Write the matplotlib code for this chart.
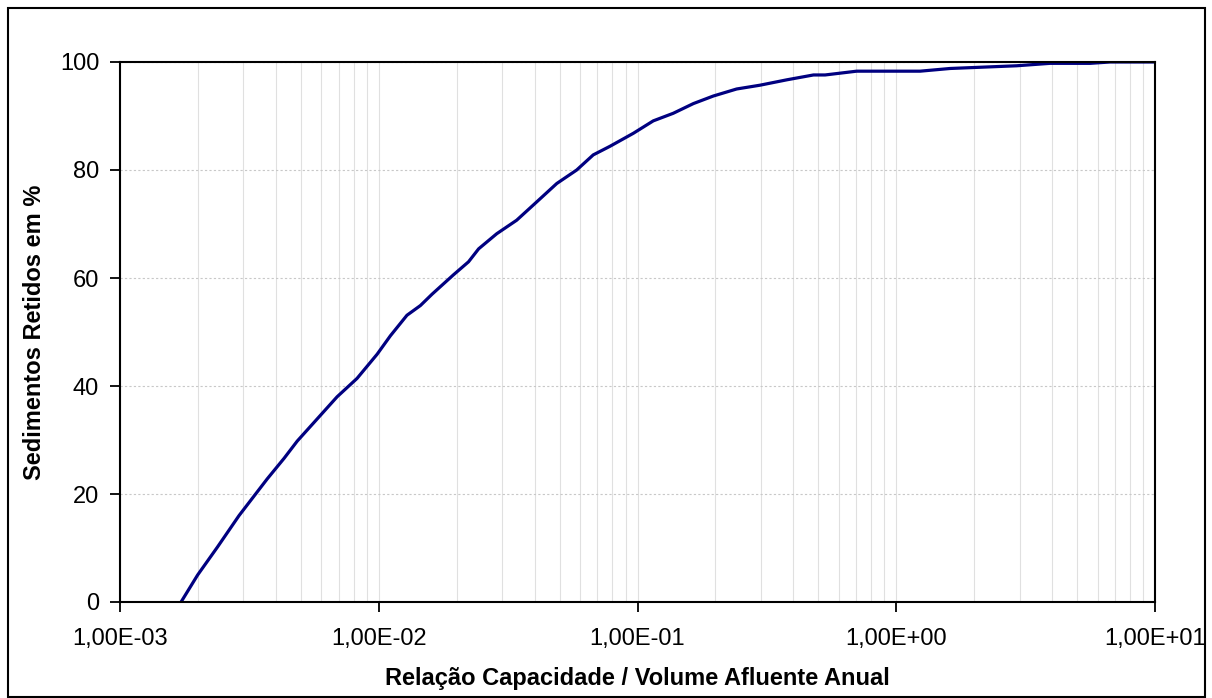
import numpy as np
import matplotlib
matplotlib.use("Agg")
import matplotlib.pyplot as plt
from matplotlib.ticker import FixedLocator, LogLocator, NullFormatter
from matplotlib.patches import Rectangle

# Relação capacidade / volume afluente anual (log10 values)
log_ratio = [-2.764, -2.70, -2.623, -2.540, -2.431, -2.366, -2.315, -2.238, -2.161,
             -2.084, -2.006, -1.955, -1.891, -1.839, -1.794, -1.711, -1.653, -1.614,
             -1.544, -1.467, -1.403, -1.312, -1.235, -1.171, -1.106, -1.016, -0.939,
             -0.862, -0.784, -0.707, -0.617, -0.527, -0.423, -0.320, -0.275, -0.153,
             0.014, 0.092, 0.208, 0.465, 0.594, 0.749, 0.826, 1.0]
retained = [0.0, 5.0, 10.2, 16.0, 22.8, 26.6, 29.8, 33.9, 38.0,
            41.4, 45.9, 49.3, 53.1, 54.9, 57.0, 60.6, 63.0, 65.4,
            68.2, 70.7, 73.5, 77.5, 80.0, 82.8, 84.4, 86.8, 89.1,
            90.5, 92.3, 93.7, 95.0, 95.7, 96.7, 97.6, 97.6, 98.3,
            98.3, 98.3, 98.8, 99.3, 99.75, 99.75, 100.0, 100.0]
ratio = [10 ** v for v in log_ratio]

x_ticks = [1e-3, 1e-2, 1e-1, 1e0, 1e1]
x_tick_labels = ["1,00E-03", "1,00E-02", "1,00E-01", "1,00E+00", "1,00E+01"]
y_ticks = [0, 20, 40, 60, 80, 100]

plt.rcParams['font.family'] = ['Liberation Sans', 'DejaVu Sans']

W, H = 1212, 698
fig = plt.figure(figsize=(W / 100, H / 100), dpi=100)
ax = fig.add_axes([120 / W, 1 - 602 / H, (1155 - 120) / W, (602 - 62) / H])

ax.plot(ratio, retained, color='#000080', linewidth=2.3, solid_joinstyle='round',
        solid_capstyle='round')

ax.set_xscale('log')
ax.set_xlim(1e-3, 1e1)
ax.set_ylim(0, 100)
ax.xaxis.set_major_locator(FixedLocator(x_ticks))
ax.set_xticklabels(x_tick_labels)
ax.xaxis.set_minor_locator(LogLocator(base=10, subs=np.arange(2, 10)))
ax.xaxis.set_minor_formatter(NullFormatter())
ax.set_yticks(y_ticks)

ax.grid(True, which='major', axis='y', color='#c8c8c8', linestyle=(0, (2, 2)), linewidth=0.8)
ax.grid(True, which='both', axis='x', color='#e0e0e0', linestyle='-', linewidth=0.8)
ax.set_axisbelow(True)

ax.tick_params(axis='both', which='major', direction='out', length=7, width=1.3,
               labelsize=17, colors='black')
ax.tick_params(axis='y', which='major', pad=8)
ax.tick_params(axis='x', which='major', pad=12)
ax.tick_params(axis='x', which='minor', length=0)
for s in ax.spines.values():
    s.set_linewidth(1.5)
    s.set_color('black')

ax.set_xlabel("Relação Capacidade / Volume Afluente Anual", fontsize=17, fontweight='bold')
ax.set_ylabel("Sedimentos Retidos em %", fontsize=17, fontweight='bold')
ax.xaxis.label.set_va('center')
ax.yaxis.label.set_va('center')
ax.xaxis.set_label_coords(0.5, (602 - 679) / 540)
ax.yaxis.set_label_coords((35 - 120) / 1035, 0.5)

x0, y0, x1, y1 = 8, 8, 1205, 697
fig.patches.append(Rectangle((x0 / W, 1 - y1 / H), (x1 - x0) / W, (y1 - y0) / H,
                             transform=fig.transFigure, fill=False,
                             edgecolor='black', linewidth=1.5))

fig.savefig("out.png", dpi=100)
